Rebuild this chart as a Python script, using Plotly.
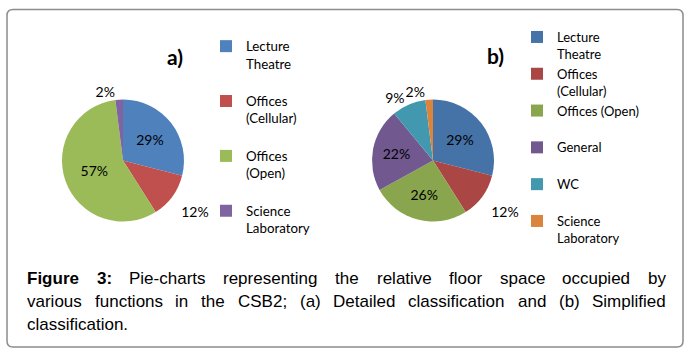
import plotly.graph_objects as go

W, H = 693, 357

# ---------------- data ----------------
categories_a = ["Lecture Theatre", "Offices (Cellular)", "Offices (Open)", "Science Laboratory"]
values_a = [29, 12, 57, 2]
colors_a = ["#4F81BD", "#C0504D", "#9BBB59", "#8064A2"]

categories_b = ["Lecture Theatre", "Offices (Cellular)", "Offices (Open)", "General", "WC", "Science Laboratory"]
values_b = [29, 12, 26, 22, 9, 2]
colors_b = ["#4572A7", "#AA4643", "#89A54E", "#71588F", "#4198AF", "#DB843D"]

legend_text_a = ["Lecture<br>Theatre<br> ", "Offices<br>(Cellular)<br> ", "Offices<br>(Open)<br> ",
                 "Science<br>Laboratory<br> "]
legend_text_b = ["Lecture<br>Theatre", "Offices<br>(Cellular)", "Offices (Open)<br> ", "General<br> ",
                 "WC<br> ", "Science<br>Laboratory"]

caption_lines = [
    "Figure 3: Pie-charts representing the relative floor space occupied by",
    "various functions in the CSB2; (a) Detailed classification and (b) Simplified",
    "classification.",
]
bold_words = {"Figure", "3:"}


def px(x):
    return x / W


def py(y):
    return 1 - y / H


def dom(cx, cy, r):
    return dict(x=[px(cx - r), px(cx + r)], y=[py(cy + r), py(cy - r)])


label_font = dict(family="Lato", size=14, color="#000000")
dom_a = dom(123, 160.5, 61)
dom_b = dom(433, 160.5, 61)
PCT = "%{percent:.0%}"
PCT_LOW = "\u00a0<br>%{percent:.0%}"   # outside label sitting a line lower

fig = go.Figure()

fig.add_trace(go.Pie(
    labels=legend_text_a, values=values_a, sort=False, direction="clockwise", rotation=0,
    marker=dict(colors=colors_a, line=dict(width=0)),
    texttemplate=[PCT, PCT_LOW, PCT, PCT],
    textposition=["inside", "outside", "inside", "outside"],
    insidetextorientation="horizontal", textfont=label_font,
    domain=dom_a, legend="legend", customdata=categories_a,
    hovertemplate="%{customdata}: %{percent:.0%}<extra></extra>",
))
fig.add_trace(go.Pie(
    labels=legend_text_b, values=values_b, sort=False, direction="clockwise", rotation=0,
    marker=dict(colors=colors_b, line=dict(width=0)),
    texttemplate=[PCT, PCT_LOW, PCT, PCT, PCT, PCT],
    textposition=["inside", "outside", "inside", "inside", "outside", "none"],
    insidetextorientation="horizontal", textfont=label_font,
    domain=dom_b, legend="legend2", customdata=categories_b,
    hovertemplate="%{customdata}: %{percent:.0%}<extra></extra>",
))
# transparent twin of pie b carrying only the smallest slice's outside label
# (keeps the library from pushing it aside with a leader line)
fig.add_trace(go.Pie(
    labels=legend_text_b, values=values_b, sort=False, direction="clockwise", rotation=0,
    marker=dict(colors=["rgba(0,0,0,0)"] * len(values_b), line=dict(width=0)),
    texttemplate=PCT,
    textposition=["none", "none", "none", "none", "none", "outside"],
    textfont=label_font, domain=dom_b, showlegend=False, hoverinfo="skip", legend="legend2",
))

# ---------------- caption (justified) ----------------
AW = {' ': 278, 'a': 556, 'b': 556, 'c': 500, 'd': 556, 'e': 556, 'f': 278, 'g': 556, 'h': 556, 'i': 222,
      'j': 222, 'k': 500, 'l': 222, 'm': 833, 'n': 556, 'o': 556, 'p': 556, 'q': 556, 'r': 333, 's': 500,
      't': 278, 'u': 556, 'v': 500, 'w': 722, 'x': 500, 'y': 500, 'z': 500, '(': 333, ')': 333, '-': 333,
      ';': 278, ':': 278, '.': 278, 'C': 722, 'S': 667, 'B': 667, 'D': 722, 'P': 667, 'F': 611}
AWB = {'F': 611, 'i': 278, 'g': 611, 'u': 611, 'r': 389, 'e': 556, ':': 333, ' ': 278}


def wwidth(word, size, bold=False):
    t = 0
    for ch in word:
        if ch.isdigit():
            t += 556
        elif bold:
            t += AWB.get(ch, 556)
        else:
            t += AW.get(ch, 556)
    return t * size / 1000.0


cap_size = 17
cap_left, cap_right = 27, 666
cap_y = [278, 301, 324]
annotations = []
for li, line in enumerate(caption_lines):
    words = line.split(" ")
    widths = [wwidth(w, cap_size, w in bold_words) for w in words]
    last = li == len(caption_lines) - 1
    if last or len(words) == 1:
        gap = 278 * cap_size / 1000.0
    else:
        gap = (cap_right - cap_left - sum(widths)) / (len(words) - 1)
    x = cap_left
    for w, wd in zip(words, widths):
        annotations.append(dict(
            x=px(x), y=py(cap_y[li]), xref="paper", yref="paper", xanchor="left", yanchor="middle",
            text=("<b>%s</b>" % w) if w in bold_words else w, showarrow=False,
            font=dict(family="Liberation Sans, Arial", size=cap_size, color="#000000"),
            borderpad=0, borderwidth=0,
        ))
        x += wd + gap

# panel titles
annotations.append(dict(x=px(175), y=py(56), xref="paper", yref="paper", text="<b>a)</b>", showarrow=False,
                        font=dict(family="Lato", size=21, color="#000000"), xanchor="center", yanchor="middle"))
annotations.append(dict(x=px(495), y=py(55), xref="paper", yref="paper", text="<b>b)</b>", showarrow=False,
                        font=dict(family="Lato", size=21, color="#000000"), xanchor="center", yanchor="middle"))

# rounded frame
L, T, R, B, rr = 7, 9.5, 683, 347, 6
path = (f"M {px(L + rr)},{py(T)} L {px(R - rr)},{py(T)} Q {px(R)},{py(T)} {px(R)},{py(T + rr)} "
        f"L {px(R)},{py(B - rr)} Q {px(R)},{py(B)} {px(R - rr)},{py(B)} "
        f"L {px(L + rr)},{py(B)} Q {px(L)},{py(B)} {px(L)},{py(B - rr)} "
        f"L {px(L)},{py(T + rr)} Q {px(L)},{py(T)} {px(L + rr)},{py(T)} Z")

fig.update_layout(
    width=W, height=H, margin=dict(l=0, r=0, t=0, b=0, autoexpand=False),
    paper_bgcolor="white", plot_bgcolor="white",
    annotations=annotations,
    shapes=[dict(type="path", path=path, xref="paper", yref="paper",
                 line=dict(color="#8c8c8c", width=1.5), fillcolor="rgba(0,0,0,0)", layer="below")],
    legend=dict(x=px(246 - 40), y=py(31), xanchor="left", yanchor="top", valign="top",
                font=dict(family="Lato", size=13.3, color="#000000"), bgcolor="rgba(0,0,0,0)",
                borderwidth=0, itemwidth=30),
    legend2=dict(x=px(557 - 40), y=py(22), xanchor="left", yanchor="top", valign="top",
                 font=dict(family="Lato", size=13, color="#000000"), bgcolor="rgba(0,0,0,0)",
                 borderwidth=0, itemwidth=30),
)

fig.write_html("out.html", config={"displayModeBar": False},
               post_script="document.body.style.margin='0px';document.body.style.padding='0px';")
